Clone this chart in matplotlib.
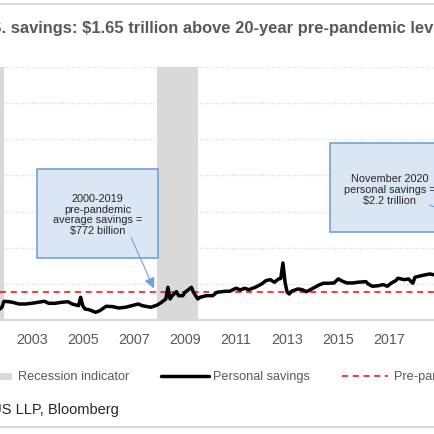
import numpy as np
import matplotlib
matplotlib.use('Agg')
import matplotlib.pyplot as plt
from matplotlib.patches import Rectangle, FancyArrowPatch
from matplotlib.lines import Line2D

plt.rcParams['font.family'] = ['Liberation Sans', 'DejaVu Sans']

# personal savings, billions of dollars (annual rate)
dates = ['2001-10', '2001-11', '2001-12', '2002-02', '2002-04', '2002-07', '2002-10',
         '2003-01', '2003-04', '2003-07', '2003-09', '2003-12', '2004-03', '2004-06',
         '2004-08', '2004-11', '2004-12', '2005-01', '2005-02', '2005-04', '2005-07',
         '2005-09', '2005-12', '2006-03', '2006-06', '2006-09', '2006-12', '2007-03',
         '2007-05', '2007-09', '2007-12', '2008-02', '2008-04', '2008-05', '2008-06',
         '2008-07', '2008-09', '2008-10', '2008-12', '2009-01', '2009-02', '2009-04',
         '2009-05', '2009-07', '2009-08', '2009-11', '2010-02', '2010-04', '2010-08',
         '2010-10', '2011-01', '2011-03', '2011-05', '2011-07', '2011-10', '2012-01',
         '2012-03', '2012-05', '2012-07', '2012-09', '2012-10', '2012-11', '2012-12',
         '2013-01', '2013-02', '2013-03', '2013-06', '2013-08', '2013-10', '2013-11',
         '2014-02', '2014-04', '2014-06', '2014-08', '2014-11', '2015-01', '2015-03',
         '2015-05', '2015-08', '2015-10', '2016-02', '2016-03', '2016-05', '2016-08',
         '2016-10', '2016-12', '2017-02', '2017-04', '2017-05', '2017-08', '2017-10',
         '2017-12', '2018-01', '2018-04', '2018-08', '2018-10', '2018-12']
savings = [305, 350, 518, 507, 490, 443, 443,
           462, 490, 518, 462, 462, 490, 507,
           443, 396, 628, 396, 305, 285, 213,
           258, 380, 370, 332, 352, 396, 443,
           396, 352, 415, 490, 580, 905, 582,
           673, 784, 673, 673, 767, 810, 905,
           767, 582, 628, 673, 673, 767, 795,
           795, 878, 831, 878, 839, 905, 997,
           1089, 1116, 1044, 1136, 1150, 1579, 1044,
           767, 720, 795, 859, 840, 784, 812,
           905, 970, 1017, 1017, 1025, 1136, 1072,
           1025, 1025, 1044, 1061, 997, 934, 950,
           980, 934, 1025, 1089, 1155, 1116, 1136,
           1017, 1183, 1227, 1274, 1250, 1260]
pre_pandemic_avg = 772
recessions = [(2001.17, 2001.9), (2007.92, 2009.5)]
tick_years = list(range(2001, 2021, 2))

title = 'U.S. savings: $1.65 trillion above 20-year pre-pandemic levels'
title_hidden = 'U.S'
source = 'Sources: BEA, RSM US LLP, Bloomberg'
source_hidden = 'Sources: BEA, RSM U'
left_note = '2000-2019\npre-pandemic\naverage savings =\n$772 billion'
right_note = 'November 2020\npersonal savings =\n$2.2 trillion'
legend_labels = ['Recession indicator', 'Personal savings', 'Pre-pandemic average']

GRID = '#d9d9d9'
TXT = '#595959'
DARK = '#262626'
BOX_FACE = '#dbe6f4'
BOX_EDGE = '#70a2da'

W = H = 435


def to_dec(s):
    y, m = s.split('-')
    return int(y) + (int(m) - 1) / 12.0


def fx(px):
    return px / W


def fy(py):
    return 1 - py / H


fig = plt.figure(figsize=(4.35, 4.35), dpi=100)
renderer = fig.canvas.get_renderer()


def text_width(s, size, **kw):
    t = fig.text(0, 0, s, fontsize=size, **kw)
    w = t.get_window_extent(renderer).width
    t.remove()
    return w


def fit_size(s, target_px, **kw):
    # font size that makes s about target_px wide, as measured on the reference
    return 10.0 * target_px / text_width(s, 10.0, **kw)


tick_fs = fit_size('2003', 32)
note_fs = fit_size('average savings =', 89)
legend_fs = fit_size('Recession indicator', 111.5)
source_fs = fit_size('S LLP, Bloomberg', 117)
title_fs = fit_size('. savings: $1.65 trillion above 20-year pre-pandemic lev', 432,
                    fontweight='bold')

ax = fig.add_axes([0, fy(321), 1, fy(68) - fy(321)])

xvals = np.array([to_dec(d) for d in dates])
ax.plot(xvals, savings, color='black', lw=2.5, zorder=4, solid_joinstyle='round')
ax.axhline(pre_pandemic_avg, color='#ff0000', lw=1.1, dashes=(4, 3), zorder=3)
for r0, r1 in recessions:
    ax.axvspan(r0, r1, color=GRID, lw=0, zorder=2)

ax.set_yticks(np.arange(0, 7001, 1000))
ax.set_yticklabels([])
ax.set_xticks(tick_years)
ax.set_xticklabels([str(y) for y in tick_years])
ax.set_xlim(2001.76, 2001.76 + W / 25.55)
ax.set_ylim(0, 7000)
ax.grid(axis='y', color=GRID, lw=0.9, ls=(0, (1, 1.5)), zorder=0)
ax.tick_params(axis='both', length=0)
ax.tick_params(axis='x', colors=TXT, labelsize=tick_fs, pad=9)
for side in ['top', 'left', 'right']:
    ax.spines[side].set_visible(False)
ax.spines['bottom'].set_color(GRID)
ax.spines['bottom'].set_linewidth(1.5)
ax.set_axisbelow(True)

# annotation boxes
fig.patches.append(Rectangle((fx(37), fy(259)), fx(158) - fx(37), fy(170) - fy(259),
                             transform=fig.transFigure, facecolor=BOX_FACE,
                             edgecolor=BOX_EDGE, lw=1.2, zorder=5))
fig.text(fx(97.5), fy(215), left_note, ha='center', va='center', fontsize=note_fs,
         color=DARK, linespacing=1.1, zorder=6)
fig.patches.append(FancyArrowPatch((fx(130), fy(236)), (fx(155), fy(292)),
                                   transform=fig.transFigure, arrowstyle='-|>',
                                   mutation_scale=16, color=BOX_EDGE, lw=0.8, zorder=6))

fig.patches.append(Rectangle((fx(330), fy(233)), fx(460) - fx(330), fy(144) - fy(233),
                             transform=fig.transFigure, facecolor=BOX_FACE,
                             edgecolor=BOX_EDGE, lw=1.2, zorder=5))
fig.text(fx(390), fy(190), right_note, ha='center', va='center', fontsize=note_fs,
         color=DARK, linespacing=1.1, zorder=6)
fig.patches.append(FancyArrowPatch((fx(427), fy(205)), (fx(450), fy(214)),
                                   transform=fig.transFigure, arrowstyle='-',
                                   color=BOX_EDGE, lw=0.8, zorder=6))

# legend drawn by hand so items sit where the original has them
fig.patches.append(Rectangle((fx(0), fy(381)), fx(12), fy(374) - fy(381),
                             transform=fig.transFigure, facecolor=GRID, lw=0))
fig.text(fx(18), fy(377), legend_labels[0], ha='left', va='center', fontsize=legend_fs, color=TXT)
fig.lines.append(Line2D([fx(161), fx(209)], [fy(377), fy(377)], transform=fig.transFigure,
                        color='black', lw=2.5, solid_capstyle='round'))
fig.text(fx(213), fy(377), legend_labels[1], ha='left', va='center', fontsize=legend_fs, color=TXT)
fig.lines.append(Line2D([fx(342), fx(388)], [fy(377), fy(377)], transform=fig.transFigure,
                        color='#ff0000', lw=1.1, dashes=(4, 3)))
fig.text(fx(394), fy(377), legend_labels[2], ha='left', va='center', fontsize=legend_fs, color=TXT)

# frame lines
fig.lines.append(Line2D([0, 1], [fy(5), fy(5)], transform=fig.transFigure, color=GRID, lw=1.5))
fig.lines.append(Line2D([0, 1], [fy(428), fy(428)], transform=fig.transFigure, color=GRID, lw=1.5))

# title and source start off the left edge, as in the original crop
hid_w = text_width(title_hidden, title_fs, fontweight='bold')
fig.text(fx(1.5 - hid_w), fy(28), title, ha='left', va='center', fontsize=title_fs,
         fontweight='bold', color=TXT)

hid_w = text_width(source_hidden, source_fs)
fig.text(fx(1.5 - hid_w), fy(410), source, ha='left', va='center', fontsize=source_fs,
         color=DARK)

fig.savefig('out.png', dpi=100)
